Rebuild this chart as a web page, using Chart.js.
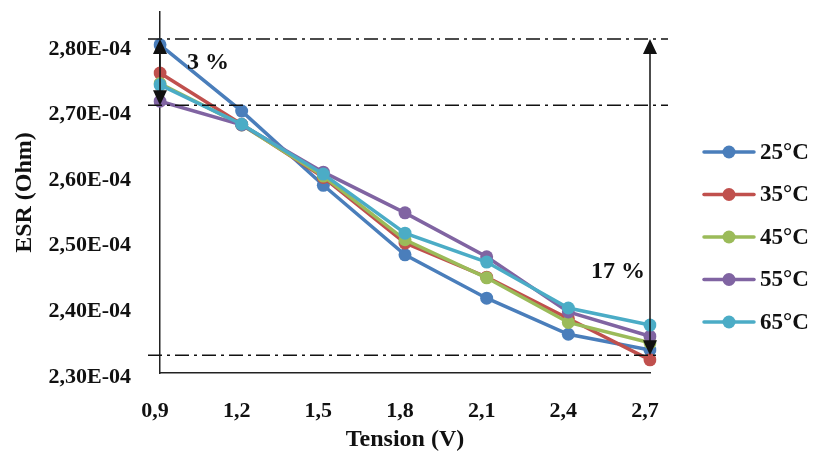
<!DOCTYPE html>
<html>
<head>
<meta charset="utf-8">
<title>ESR vs Tension</title>
<script src="https://cdn.jsdelivr.net/npm/chart.js@4.4.1/dist/chart.umd.min.js"></script>
<style>
  html, body { margin: 0; padding: 0; background: #fff; }
  #wrap { width: 816px; height: 455px; position: relative; }
</style>
</head>
<body>
<div id="wrap"><canvas id="esrChart" width="816" height="455"></canvas></div>
<script>
// Data (ESR in Ohm)
var tensionLabels = ['0,9', '1,2', '1,5', '1,8', '2,1', '2,4', '2,7'];
var seriesNames = ['25°C', '35°C', '45°C', '55°C', '65°C'];
var esr25 = [2.800e-4, 2.699e-4, 2.586e-4, 2.480e-4, 2.414e-4, 2.359e-4, 2.335e-4];
var esr35 = [2.757e-4, 2.679e-4, 2.598e-4, 2.498e-4, 2.446e-4, 2.383e-4, 2.320e-4];
var esr45 = [2.741e-4, 2.678e-4, 2.600e-4, 2.503e-4, 2.445e-4, 2.377e-4, 2.346e-4];
var esr55 = [2.714e-4, 2.678e-4, 2.606e-4, 2.544e-4, 2.477e-4, 2.393e-4, 2.356e-4];
var esr65 = [2.739e-4, 2.679e-4, 2.603e-4, 2.513e-4, 2.469e-4, 2.399e-4, 2.373e-4];
var yTicks = [2.3e-4, 2.4e-4, 2.5e-4, 2.6e-4, 2.7e-4, 2.8e-4];

// Reference levels used for the 3 % and 17 % arrows
var refTop = 2.809e-4;
var refMid = 2.708e-4;
var refLow = 2.327e-4;

var colors = ['#4a7ebb', '#c0504d', '#9bbb59', '#8064a2', '#4bacc6'];
var allSeries = [esr25, esr35, esr45, esr55, esr65];
var serif = '"Liberation Serif", "Times New Roman", serif';

function formatEsr(v) {
  return (v * 1e4).toFixed(2).replace('.', ',') + 'E-04';
}

var datasets = allSeries.map(function(values, i) {
  return {
    label: seriesNames[i],
    data: values,
    borderColor: colors[i],
    backgroundColor: colors[i],
    borderWidth: 3.5,
    pointRadius: 6.5,
    pointHoverRadius: 6.5,
    pointBorderWidth: 0,
    tension: 0,
    order: allSeries.length - i
  };
});

// Draw a vertical double arrow
function doubleArrow(ctx, x, y1, y2) {
  var hw = 7, hh = 15;
  ctx.save();
  ctx.strokeStyle = '#111';
  ctx.fillStyle = '#111';
  ctx.lineWidth = 1.5;
  ctx.setLineDash([]);
  ctx.beginPath();
  ctx.moveTo(x, y1 + hh - 2);
  ctx.lineTo(x, y2 - hh + 2);
  ctx.stroke();
  ctx.beginPath();
  ctx.moveTo(x, y1);
  ctx.lineTo(x - hw, y1 + hh);
  ctx.lineTo(x + hw, y1 + hh);
  ctx.closePath();
  ctx.fill();
  ctx.beginPath();
  ctx.moveTo(x, y2);
  ctx.lineTo(x - hw, y2 - hh);
  ctx.lineTo(x + hw, y2 - hh);
  ctx.closePath();
  ctx.fill();
  ctx.restore();
}

var annotations = {
  id: 'annotations',
  afterDatasetsDraw: function(chart) {
    var ctx = chart.ctx;
    var y = chart.scales.y;
    var x = chart.scales.x;
    var yTop = y.getPixelForValue(refTop);
    var yMid = y.getPixelForValue(refMid);
    var yLow = y.getPixelForValue(refLow);
    var xLeft = x.getPixelForValue(0);
    var xRight = x.getPixelForValue(tensionLabels.length - 1);

    // dash-dot reference lines
    ctx.save();
    ctx.strokeStyle = '#111';
    ctx.lineWidth = 1.5;
    ctx.setLineDash([14, 5, 3, 5]);
    [[yTop, 668], [yMid, 668], [yLow, 656]].forEach(function(l) {
      ctx.beginPath();
      ctx.moveTo(148, l[0]);
      ctx.lineTo(l[1], l[0]);
      ctx.stroke();
    });
    ctx.restore();

    doubleArrow(ctx, xLeft, yTop, yMid);
    doubleArrow(ctx, xRight, yTop, yLow);

    ctx.save();
    ctx.fillStyle = '#111';
    ctx.font = 'bold 24px ' + serif;
    ctx.textBaseline = 'middle';
    ctx.textAlign = 'left';
    ctx.fillText('3 %', 187, 63);
    ctx.textAlign = 'right';
    ctx.fillText('17 %', 645, 272);
    ctx.restore();
  }
};

// Legend on the right with line and dot
var sideLegend = {
  id: 'sideLegend',
  afterDraw: function(chart) {
    var ctx = chart.ctx;
    ctx.save();
    chart.data.datasets.forEach(function(ds, i) {
      var cy = 152 + i * 42.5;
      ctx.strokeStyle = ds.borderColor;
      ctx.lineWidth = 3.5;
      ctx.lineCap = 'round';
      ctx.beginPath();
      ctx.moveTo(704, cy);
      ctx.lineTo(754, cy);
      ctx.stroke();
      ctx.fillStyle = ds.backgroundColor;
      ctx.beginPath();
      ctx.arc(729, cy, 6.5, 0, Math.PI * 2);
      ctx.fill();
      ctx.fillStyle = '#111';
      ctx.font = 'bold 23px ' + serif;
      ctx.textBaseline = 'middle';
      ctx.textAlign = 'left';
      ctx.fillText(ds.label, 760, cy + 1);
    });
    ctx.restore();
  }
};

var ctx = document.getElementById('esrChart').getContext('2d');
var esrChart = new Chart(ctx, {
  type: 'line',
  data: {
    labels: tensionLabels,
    datasets: datasets
  },
  options: {
    responsive: false,
    animation: false,
    layout: { padding: { top: 12, right: 166, bottom: 0, left: 0 } },
    plugins: {
      legend: { display: false },
      tooltip: { enabled: false }
    },
    scales: {
      x: {
        offset: false,
        grid: { display: false },
        border: { display: true, color: '#222', width: 1.5 },
        ticks: {
          color: '#111',
          font: { family: serif, size: 22, weight: 'bold' },
          padding: 17,
          maxRotation: 0,
          autoSkip: false,
          labelOffset: -5
        },
        title: {
          display: true,
          text: 'Tension (V)',
          color: '#111',
          font: { family: serif, size: 24, weight: 'bold' },
          padding: { top: 0, bottom: 1 }
        },
        afterFit: function(scale) { scale.height = 82; }
      },
      y: {
        min: 2.3e-4,
        max: 2.85e-4,
        grid: { display: false },
        border: { display: true, color: '#222', width: 1.5 },
        afterBuildTicks: function(scale) {
          scale.ticks = yTicks.map(function(v) { return { value: v }; });
        },
        ticks: {
          color: '#111',
          font: { family: serif, size: 22, weight: 'bold' },
          padding: 21,
          labelOffset: 4,
          callback: function(value) { return formatEsr(value); }
        },
        title: {
          display: true,
          text: 'ESR (Ohm)',
          color: '#111',
          font: { family: serif, size: 24, weight: 'bold' },
          padding: { top: 10, bottom: 0 }
        },
        afterFit: function(scale) {
          scale.width = 160;
          scale.paddingTop = 0;
          scale.paddingBottom = 0;
        }
      }
    }
  },
  plugins: [annotations, sideLegend]
});
</script>
</body>
</html>
